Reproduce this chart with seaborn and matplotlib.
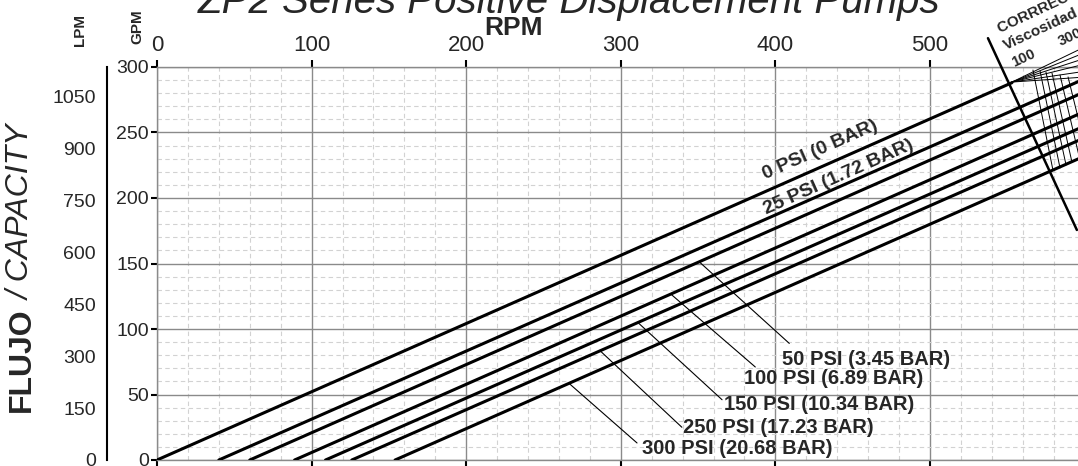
import numpy as np
import pandas as pd
import matplotlib
matplotlib.use('Agg')
import matplotlib.pyplot as plt
import seaborn as sns

# Pump curves: each line runs from (start_rpm, 0) to (end_rpm, end_gpm)
pressure_labels = ['0 PSI (0 BAR)', '25 PSI (1.72 BAR)', '50 PSI (3.45 BAR)', '100 PSI (6.89 BAR)',
                   '150 PSI (10.34 BAR)', '250 PSI (17.23 BAR)', '300 PSI (20.68 BAR)']
start_rpm = [0, 40, 60, 89, 109, 126, 154]
end_rpm = [553, 600, 600, 600, 600, 600, 600]
end_gpm = [288, 291, 281, 266, 255, 246, 232]

# Rotated labels for the two upper curves
rot_label_rpm = [429, 441]
rot_label_gpm = [236.5, 216]

# Labels with leader lines for the lower curves (50..300 PSI)
lead_label_rpm = [404, 380, 367, 340, 314]
lead_label_gpm = [77, 62, 42, 25, 9]
lead_from_rpm = [351, 333, 311, 286.5, 267]
lead_from_gpm = [151, 126, 105, 83.5, 58]
lead_to_rpm = [409, 387, 365.5, 339.5, 310.5]
lead_to_gpm = [89, 71, 46, 25, 13]

# Axis ticks
rpm_ticks = [0, 100, 200, 300, 400, 500]
gpm_ticks = [0, 50, 100, 150, 200, 250, 300]
lpm_ticks = [0, 150, 300, 450, 600, 750, 900, 1050]
LPM_PER_GPM = 3.78541

# Viscosity correction nomogram (upper right)
corr_rpm = [537.5, 595]
corr_gpm = [322, 175.6]
fan_from = (553, 288.5)
fan_end_rpm = 596
fan_end_gpm = [313, 309, 305, 301, 296, 292]
visc_top_rpm = [566.6, 571.2, 575.0, 578.9, 584.1, 589.3]
visc_top_gpm = [297.7, 296.9, 296.2, 295.4, 293.9, 292.4]
visc_bot_rpm = [579.5, 584.1, 588.0, 591.8, 597.0, 602.2]
visc_bot_gpm = [221.4, 222.9, 225.2, 227.5, 229.0, 230.5]

sns.set_theme(style='white')
plt.rcParams['font.family'] = ['Liberation Sans', 'DejaVu Sans']

W, H = 1078, 466
fig = plt.figure(figsize=(W / 100, H / 100), dpi=100)


def fx(px):
    return px / W


def fy(py):
    return 1 - py / H


ax = fig.add_axes([fx(157), 6 / H, 600 * 1.546 / W, 393 / H])
ax.set_xlim(0, 600)
ax.set_ylim(0, 300)

rows = []
for lab, s, er, eg in zip(pressure_labels, start_rpm, end_rpm, end_gpm):
    rows.append({'pressure': lab, 'rpm': s, 'gpm': 0})
    rows.append({'pressure': lab, 'rpm': er, 'gpm': eg})
df = pd.DataFrame(rows)

sns.lineplot(data=df, x='rpm', y='gpm', hue='pressure', palette=['black'] * len(pressure_labels),
             estimator=None, sort=False, legend=False, linewidth=2.2, ax=ax, zorder=3)

# grid
ax.set_xticks(rpm_ticks)
ax.set_xticks(np.arange(0, 601, 20), minor=True)
ax.set_yticks(gpm_ticks)
ax.set_yticks(np.arange(0, 301, 10), minor=True)
ax.grid(which='major', color='#8a8a8a', linewidth=1.0)
ax.grid(which='minor', color='#d2d2d2', linewidth=0.8, linestyle=(0, (4, 3)))
ax.set_axisbelow(True)
for sp in ax.spines.values():
    sp.set_color('#8a8a8a')
    sp.set_linewidth(1.0)

ax.tick_params(axis='x', which='major', top=True, bottom=True, labeltop=True, labelbottom=False,
               direction='out', length=5, width=1.5, color='black', labelsize=16, pad=3)
ax.tick_params(axis='y', which='major', left=True, direction='out', length=4, width=1.5,
               color='black', labelsize=14, pad=2)
ax.tick_params(which='minor', length=0)
ax.set_xlabel('')
ax.set_ylabel('')

# rotated curve labels
for lab, r, g in zip(pressure_labels[:2], rot_label_rpm, rot_label_gpm):
    ax.text(r, g, lab, rotation=24, rotation_mode='anchor', ha='center', va='center',
            fontsize=14, fontweight='bold', zorder=4)

# leader lines and labels
for i, lab in enumerate(pressure_labels[2:]):
    ax.plot([lead_from_rpm[i], lead_to_rpm[i]], [lead_from_gpm[i], lead_to_gpm[i]],
            color='black', linewidth=0.8, zorder=3)
    ax.text(lead_label_rpm[i], lead_label_gpm[i], lab, ha='left', va='center',
            fontsize=14.5, fontweight='bold', zorder=4)

# correction nomogram
ax.plot(corr_rpm, corr_gpm, color='black', linewidth=1.8, clip_on=False, zorder=3)
for g in fan_end_gpm:
    ax.plot([fan_from[0], fan_end_rpm], [fan_from[1], g], color='black', linewidth=0.7,
            clip_on=False, zorder=3)
for i in range(len(visc_top_rpm)):
    ax.plot([visc_top_rpm[i], visc_bot_rpm[i]], [visc_top_gpm[i], visc_bot_gpm[i]],
            color='black', linewidth=0.7, zorder=3)

fig.text(fx(1000), fy(33), 'CORRRECCIÓN POR VISCOSIDAD', rotation=25, rotation_mode='anchor',
         ha='left', va='baseline', fontsize=11, fontweight='bold')
fig.text(fx(1006), fy(50), 'Viscosidad', rotation=25, rotation_mode='anchor',
         ha='left', va='baseline', fontsize=11, fontweight='bold')
fig.text(fx(1014), fy(67), '100', rotation=25, rotation_mode='anchor',
         ha='left', va='baseline', fontsize=10.5, fontweight='bold')
fig.text(fx(1061), fy(46), '300', rotation=25, rotation_mode='anchor',
         ha='left', va='baseline', fontsize=10.5, fontweight='bold')

# LPM scale axis
ax2 = fig.add_axes([fx(107), 6 / H, 1e-4, 393 / H])
ax2.set_ylim(0, 300)
ax2.set_xticks([])
ax2.patch.set_visible(False)
for side in ['top', 'right', 'bottom']:
    ax2.spines[side].set_visible(False)
ax2.spines['left'].set_color('black')
ax2.spines['left'].set_linewidth(1.5)
ax2.set_yticks([v / LPM_PER_GPM for v in lpm_ticks])
ax2.set_yticklabels([str(v) for v in lpm_ticks])
ax2.set_yticks(np.arange(0, 301, 25), minor=True)
ax2.yaxis.remove_overlapping_locs = False
ax2.tick_params(axis='y', which='major', direction='out', length=7, width=1.5, color='black',
                labelsize=14, pad=1)
ax2.tick_params(axis='y', which='minor', direction='in', length=6, width=1.5, color='black')

# titles and axis names
fig.text(fx(569), fy(13), 'ZP2 Series Positive Displacement Pumps', ha='center', va='baseline',
         fontsize=29, fontstyle='italic')
fig.text(fx(514), fy(35), 'RPM', ha='center', va='baseline', fontsize=19, fontweight='bold')
fig.text(fx(80), fy(30), 'LPM', rotation=90, ha='center', va='center', fontsize=11, fontweight='bold')
fig.text(fx(137), fy(27), 'GPM', rotation=90, ha='center', va='center', fontsize=11, fontweight='bold')
fig.text(fx(22), fy(412), 'FLUJO', rotation=90, ha='center', va='bottom', fontsize=23, fontweight='bold')
fig.text(fx(22), fy(300), '/ CAPACITY', rotation=90, ha='center', va='bottom', fontsize=23,
         fontstyle='italic')

fig.savefig('out.png', dpi=100)
